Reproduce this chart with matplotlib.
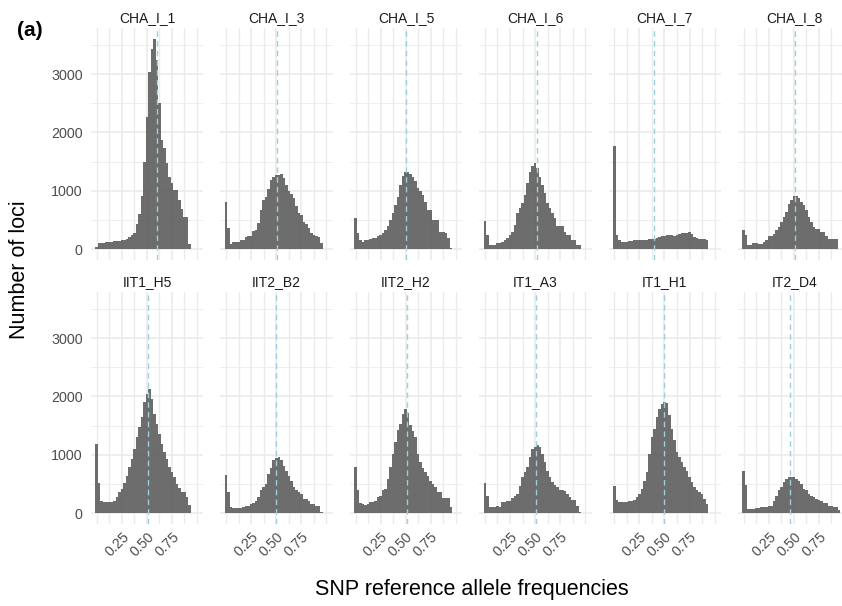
import numpy as np
import matplotlib
matplotlib.use("Agg")
import matplotlib.pyplot as plt

plt.rcParams['font.family'] = ['Liberation Sans', 'DejaVu Sans']

# sample names, in facet order
samples = ["CHA_I_1", "CHA_I_3", "CHA_I_5", "CHA_I_6", "CHA_I_7", "CHA_I_8",
           "IIT1_H5", "IIT2_B2", "IIT2_H2", "IT1_A3", "IT1_H1", "IT2_D4"]

# histogram counts, 40 bins from 0 to 1
cha_i_1 = [40, 114, 114, 103, 126, 126, 126, 143, 143, 143, 154, 154, 183, 211, 250, 286, 429, 611, 909, 1497,
           2269, 3040, 3423, 3600, 3240, 2497, 1869, 1726, 1469, 1240, 1126, 1011, 1011, 840, 697, 554, 554, 97, 6, 0]
cha_i_3 = [817, 360, 86, 130, 115, 120, 150, 150, 210, 220, 230, 310, 330, 457, 675, 850, 900, 1034, 1190, 1245,
           1270, 1275, 1290, 1217, 1100, 990, 950, 875, 743, 617, 580, 474, 440, 360, 274, 240, 230, 206, 114, 10]
cha_i_5 = [530, 280, 150, 130, 150, 160, 170, 190, 200, 220, 250, 280, 330, 400, 500, 620, 760, 900, 1100, 1250,
           1331, 1331, 1290, 1245, 1160, 1045, 1000, 930, 817, 674, 674, 500, 500, 500, 303, 303, 274, 190, 17, 3]
cha_i_6 = [486, 246, 74, 74, 80, 100, 110, 120, 150, 200, 246, 300, 417, 617, 700, 789, 931, 1131, 1331, 1434,
           1474, 1389, 1245, 1103, 960, 789, 703, 617, 531, 400, 389, 389, 303, 246, 246, 160, 160, 74, 74, 0]
cha_i_7 = [1770, 250, 150, 130, 130, 130, 140, 140, 150, 150, 155, 160, 160, 165, 170, 175, 180, 200, 210, 230,
           234, 240, 246, 235, 230, 250, 263, 270, 274, 285, 291, 260, 205, 190, 180, 170, 170, 165, 5, 0]
cha_i_8 = [326, 240, 69, 69, 109, 109, 97, 97, 126, 166, 223, 223, 269, 326, 383, 469, 554, 640, 766, 840,
           909, 914, 869, 811, 754, 669, 554, 469, 383, 354, 354, 297, 297, 223, 183, 183, 183, 183, 0, 0]
iit1_h5 = [1184, 512, 216, 188, 188, 188, 200, 216, 285, 359, 415, 512, 643, 785, 928, 1098, 1298, 1480, 1650, 1900,
           2050, 2123, 1950, 1696, 1525, 1355, 1184, 1042, 928, 785, 700, 615, 501, 430, 359, 359, 273, 148, 0, 0]
iit2_b2 = [646, 371, 103, 86, 86, 91, 91, 103, 131, 131, 160, 170, 206, 274, 389, 450, 503, 674, 777, 914,
           950, 971, 903, 817, 731, 640, 560, 457, 389, 360, 331, 246, 246, 206, 160, 160, 131, 131, 17, 0]
iit2_h2 = [789, 389, 171, 160, 143, 150, 189, 195, 206, 274, 300, 389, 417, 589, 789, 1017, 1217, 1429, 1531, 1703,
           1789, 1714, 1503, 1400, 1303, 1017, 874, 780, 703, 640, 560, 500, 446, 360, 360, 263, 263, 263, 103, 0]
it1_a3 = [514, 291, 114, 103, 103, 131, 114, 189, 189, 206, 206, 263, 300, 331, 474, 617, 700, 800, 960, 1103,
          1140, 1174, 1131, 1017, 874, 731, 617, 531, 480, 446, 389, 389, 377, 331, 274, 229, 229, 131, 17, 0]
it1_h1 = [470, 230, 190, 189, 189, 189, 206, 206, 229, 280, 331, 417, 560, 700, 1017, 1303, 1446, 1650, 1789, 1874,
          1903, 1890, 1674, 1450, 1246, 1046, 960, 874, 800, 731, 617, 531, 446, 389, 360, 331, 246, 160, 0, 0]
it2_d4 = [720, 486, 74, 74, 80, 91, 91, 100, 103, 110, 131, 131, 217, 303, 400, 457, 530, 589, 617, 617,
          617, 589, 560, 503, 420, 389, 331, 300, 274, 246, 230, 206, 171, 171, 131, 131, 114, 114, 57, 0]

counts = [cha_i_1, cha_i_3, cha_i_5, cha_i_6, cha_i_7, cha_i_8,
          iit1_h5, iit2_b2, iit2_h2, it1_a3, it1_h1, it2_d4]

# dashed reference line per sample
vlines = [0.606, 0.507, 0.505, 0.516, 0.396, 0.515,
          0.515, 0.500, 0.510, 0.508, 0.500, 0.460]

edges = np.linspace(-0.0125, 0.9875, 41)
centers = (edges[:-1] + edges[1:]) / 2
binw = edges[1] - edges[0]

W, H = 842, 606
fig = plt.figure(figsize=(W / 100, H / 100), dpi=100)

grid_col = "#EBEBEB"
for i, name in enumerate(samples):
    row, col = divmod(i, 6)
    left = 91 + 129.4 * col
    top = 28 if row == 0 else 292
    ax = fig.add_axes([left / W, 1 - (top + 232) / H, 112.3 / W, 232 / H])
    ax.set_xlim(-0.057, 1.063)
    ax.set_ylim(-185, 3790)
    for s in ax.spines.values():
        s.set_visible(False)
    ax.set_facecolor("white")
    # grid
    for y in [0, 1000, 2000, 3000]:
        ax.axhline(y, color=grid_col, lw=1.2, zorder=0)
    for y in [500, 1500, 2500, 3500]:
        ax.axhline(y, color=grid_col, lw=0.6, zorder=0)
    for x in [0.25, 0.5, 0.75]:
        ax.axvline(x, color=grid_col, lw=1.2, zorder=0)
    for x in [0, 0.125, 0.375, 0.625, 0.875, 1.0]:
        ax.axvline(x, color=grid_col, lw=1.0, zorder=0)
    ax.bar(centers, counts[i], width=binw, color="#595959", alpha=0.88, linewidth=0, zorder=2)
    ax.axvline(vlines[i], color="#9DD0DC", lw=1.0, ls=(0, (4, 3)), zorder=3)
    ax.set_title(name, fontsize=10, color="#1A1A1A", pad=4)
    ax.tick_params(length=0, labelsize=10.3, labelcolor="#4D4D4D")
    ax.tick_params(axis="y", pad=6)
    ax.set_yticks([0, 1000, 2000, 3000])
    if col != 0:
        ax.set_yticklabels([])
    ax.set_xticks([0.25, 0.5, 0.75])
    if row == 1:
        ax.set_xticklabels(["0.25", "0.50", "0.75"], rotation=45, ha="right",
                           rotation_mode="anchor")
        ax.tick_params(axis="x", pad=4)
    else:
        ax.set_xticklabels([])

fig.text(30 / W, 1 - 30 / H, "(a)", fontsize=15, fontweight="bold", ha="center", va="center")
fig.text(20 / W, 1 - 270 / H, "Number of loci", fontsize=15.5, rotation=90, ha="center", va="center")
fig.text(472 / W, 1 - 590 / H, "SNP reference allele frequencies", fontsize=15.5, ha="center", va="center")

fig.savefig("out.png", dpi=100)
